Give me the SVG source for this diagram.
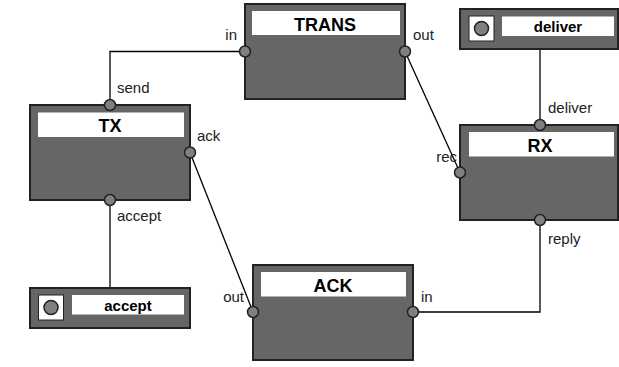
<svg xmlns="http://www.w3.org/2000/svg" width="619" height="367" viewBox="0 0 619 367">
<style>
.box{fill:#666;stroke:#222;stroke-width:2}
.lbl{fill:#fff}
.title{font-family:"Liberation Sans",Arial,sans-serif;font-weight:bold;font-size:18px;fill:#000;text-anchor:middle}
.iot{font-family:"Liberation Sans",Arial,sans-serif;font-weight:bold;font-size:15px;fill:#000;text-anchor:middle}
.pl{font-family:"Liberation Sans",Arial,sans-serif;font-size:15px;fill:#222}
.port{fill:#808080;stroke:#222;stroke-width:1.5}
.icon{fill:#fff;stroke:#222;stroke-width:1}
.wire{fill:none;stroke:#000;stroke-width:1.3}
</style>
<g id="connectors">
<path class="wire" d="M245,51.5 H110 V105"/>
<path class="wire" d="M405,51.5 L460,172.5"/>
<path class="wire" d="M190,152.5 L253,312"/>
<path class="wire" d="M413,312 H540 V220"/>
<path class="wire" d="M540,49 V125"/>
<path class="wire" d="M110,288 V200"/>
</g>
<g id="TRANS">
<rect class="box" x="245" y="4" width="160" height="95"/>
<rect class="lbl" x="252" y="11" width="148" height="24"/>
<text class="title" x="325" y="31">TRANS</text>
<circle class="port" cx="245" cy="51.5" r="5.5"/>
<circle class="port" cx="405" cy="51.5" r="5.5"/>
<text class="pl" x="237" y="40" text-anchor="end">in</text>
<text class="pl" x="413" y="40">out</text>
</g>
<g id="TX">
<rect class="box" x="30" y="105" width="160" height="95"/>
<rect class="lbl" x="38" y="112.5" width="146" height="24.5"/>
<text class="title" x="110" y="132">TX</text>
<circle class="port" cx="110" cy="105" r="5.5"/>
<circle class="port" cx="190" cy="152.5" r="5.5"/>
<circle class="port" cx="110" cy="200" r="5.5"/>
<text class="pl" x="117" y="93">send</text>
<text class="pl" x="197" y="141">ack</text>
<text class="pl" x="117" y="221">accept</text>
</g>
<g id="RX">
<rect class="box" x="460" y="125" width="158" height="95"/>
<rect class="lbl" x="469" y="132" width="145" height="24.5"/>
<text class="title" x="540" y="152">RX</text>
<circle class="port" cx="540" cy="125" r="5.5"/>
<circle class="port" cx="460" cy="172.5" r="5.5"/>
<circle class="port" cx="540" cy="220" r="5.5"/>
<text class="pl" x="548" y="113">deliver</text>
<text class="pl" x="457" y="162" text-anchor="end">rec</text>
<text class="pl" x="548" y="244">reply</text>
</g>
<g id="ACK">
<rect class="box" x="253" y="265" width="160" height="95"/>
<rect class="lbl" x="261" y="272" width="145" height="24.5"/>
<text class="title" x="333" y="292">ACK</text>
<circle class="port" cx="253" cy="312" r="5.5"/>
<circle class="port" cx="413" cy="312" r="5.5"/>
<text class="pl" x="244" y="302" text-anchor="end">out</text>
<text class="pl" x="421" y="302">in</text>
</g>
<g id="deliver">
<rect class="box" x="460" y="9" width="158" height="40"/>
<rect class="icon" x="469" y="16" width="25" height="25"/>
<circle class="port" cx="481.5" cy="28.5" r="7"/>
<rect class="lbl" x="502" y="16.5" width="112" height="19.5"/>
<text class="iot" x="558" y="32">deliver</text>
</g>
<g id="accept">
<rect class="box" x="30" y="288" width="160" height="40"/>
<rect class="icon" x="38.5" y="295" width="25" height="25"/>
<circle class="port" cx="51" cy="307.5" r="7"/>
<rect class="lbl" x="72" y="295" width="112" height="19.5"/>
<text class="iot" x="128" y="311">accept</text>
</g>
</svg>
